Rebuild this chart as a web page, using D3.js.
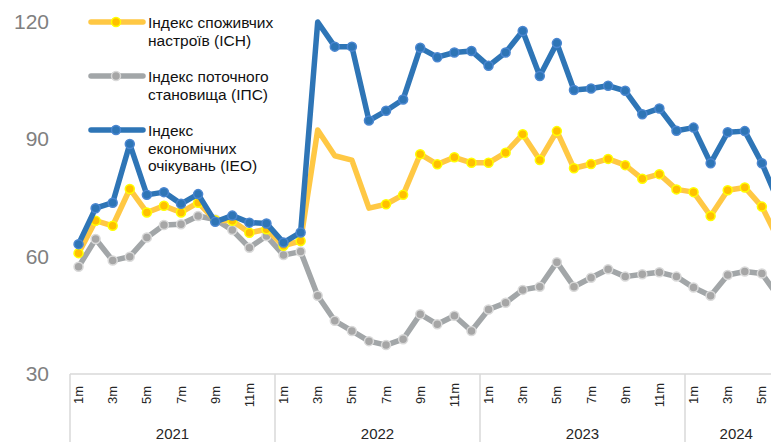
<!DOCTYPE html>
<html lang="uk">
<head>
<meta charset="utf-8">
<title>Індекси споживчих настроїв</title>
<script src="https://d3js.org/d3.v7.min.js"></script>
<style>
  body { margin: 0; background: #fff; }
  svg { display: block; overflow: hidden; }
  text { font-family: "Liberation Sans", Arial, sans-serif; }
</style>
</head>
<body>
<script>
// years and how many months each one covers
var years = ["2021", "2022", "2023", "2024"];
var monthsPerYear = [12, 12, 12, 6];
var yTicks = [30, 60, 90, 120];

// Індекс споживчих настроїв (ІСН)
var ich = [60.9, 69.2, 67.9, 77.3, 71.3, 73.0, 71.3, 73.8, 69.3, 69.2, 66.1, 67.0,
           62.8, 64.0, 92.4, 85.8, 84.7, 72.4, 73.4, 75.8, 86.2, 83.6, 85.4, 84.0,
           84.0, 86.6, 91.3, 84.7, 92.1, 82.6, 83.7, 85.0, 83.4, 79.9, 81.1, 77.2,
           76.5, 70.4, 77.0, 77.7, 72.8, 64.1];
// Індекс поточного становища (ІПС)
var ips = [57.4, 64.5, 59.0, 60.0, 64.9, 68.1, 68.3, 70.4, 69.5, 66.8, 62.3, 65.3,
           60.4, 61.3, 50.0, 43.6, 41.0, 38.4, 37.4, 38.9, 45.3, 42.7, 44.9, 41.0,
           46.5, 48.2, 51.5, 52.3, 58.6, 52.3, 54.6, 56.8, 54.9, 55.5, 56.0, 54.9,
           52.1, 50.0, 55.3, 56.2, 55.7, 49.6];
// Індекс економічних очікувань (ІЕО)
var ieo = [63.2, 72.4, 73.8, 88.8, 75.8, 76.5, 73.5, 76.0, 68.9, 70.5, 68.7, 68.5,
           63.6, 66.2, 120.0, 113.7, 113.7, 94.8, 97.3, 100.2, 113.4, 111.0, 112.2, 112.6,
           108.8, 112.2, 117.7, 106.2, 114.6, 102.6, 103.0, 103.7, 102.4, 96.4, 97.9, 92.2,
           93.0, 83.9, 91.8, 92.1, 83.9, 73.7];

// points drawn without a marker in the original
var noMarkIch = ["2022-3", "2022-4", "2022-5", "2022-6"];
var noMarkIeo = ["2022-3"];

var w = 771, h = 442;

// build month keys "2021-1" ...
var months = [];
years.forEach(function(y, i) {
  for (var m = 1; m <= monthsPerYear[i]; m++) months.push({ key: y + "-" + m, year: y, m: m });
});
var keys = months.map(function(d) { return d.key; });

var step = 205 / 12;
var x = d3.scaleBand()
  .domain(keys)
  .range([70, 70 + step * keys.length]);

var y = d3.scaleLinear()
  .domain([30, 120])
  .range([374, 22]);

var svg = d3.select("body").append("svg")
  .attr("width", w)
  .attr("height", h);

// y labels (no axis line)
svg.selectAll(".ylab")
  .data(yTicks)
  .enter().append("text")
  .attr("class", "ylab")
  .attr("x", 49)
  .attr("y", function(d) { return y(d) + 7; })
  .attr("text-anchor", "end")
  .attr("fill", "#808080")
  .style("font-size", "21px")
  .text(function(d) { return d; });

// x axis: top line + year separators
var axisY = 374;
svg.append("line")
  .attr("x1", 70).attr("x2", w)
  .attr("y1", axisY).attr("y2", axisY)
  .attr("stroke", "#d9d9d9").attr("stroke-width", 1.5);

var yearStart = [0];
monthsPerYear.forEach(function(n, i) { yearStart.push(yearStart[i] + n); });

yearStart.forEach(function(s) {
  var xx = 70 + s * step;
  svg.append("line")
    .attr("x1", xx).attr("x2", xx)
    .attr("y1", axisY).attr("y2", h)
    .attr("stroke", "#d9d9d9").attr("stroke-width", 1.5);
});

years.forEach(function(yr, i) {
  var x0 = 70 + yearStart[i] * step, x1 = 70 + yearStart[i + 1] * step;
  svg.append("text")
    .attr("x", (x0 + x1) / 2)
    .attr("y", 439)
    .attr("text-anchor", "middle")
    .attr("fill", "#262626")
    .style("font-size", "15px")
    .text(yr);
});

// month labels (odd months), rotated
svg.selectAll(".mlab")
  .data(months.filter(function(d) { return d.m % 2 === 1; }))
  .enter().append("text")
  .attr("class", "mlab")
  .attr("transform", function(d) {
    return "translate(" + (x(d.key) + x.bandwidth() / 2 + 4.5) + "," + 395 + ") rotate(-90)";
  })
  .attr("text-anchor", "middle")
  .attr("fill", "#262626")
  .style("font-size", "13px")
  .text(function(d) { return d.m + "m"; });

// series
var series = [
  { name: "ips", values: ips, line: "#a2a6a8", fill: "#a6a6a6", stroke: "#d9d9d9", skip: [] },
  { name: "ich", values: ich, line: "#ffc844", fill: "#ffc000", stroke: "#ffff00", skip: noMarkIch },
  { name: "ieo", values: ieo, line: "#2e75b6", fill: "#2e75b6", stroke: "#4a86d0", skip: noMarkIeo }
];

var line = d3.line()
  .x(function(d, i) { return x(keys[i]) + x.bandwidth() / 2; })
  .y(function(d) { return y(d); });

series.forEach(function(s) {
  var g = svg.append("g").attr("class", s.name);
  g.append("path")
    .datum(s.values)
    .attr("fill", "none")
    .attr("stroke", s.line)
    .attr("stroke-width", 5.5)
    .attr("stroke-linejoin", "round")
    .attr("d", line);
  g.selectAll("circle")
    .data(s.values.map(function(v, i) { return { v: v, key: keys[i] }; })
      .filter(function(d) { return s.skip.indexOf(d.key) < 0; }))
    .enter().append("circle")
    .attr("cx", function(d) { return x(d.key) + x.bandwidth() / 2; })
    .attr("cy", function(d) { return y(d.v); })
    .attr("r", 4.5)
    .attr("fill", s.fill)
    .attr("stroke", s.stroke)
    .attr("stroke-width", 1.5);
});

// legend
var legend = [
  { color: "#ffc844", fill: "#ffc000", stroke: "#ffff00", y: 22, lines: ["Індекс споживчих", "настроїв (ІСН)"] },
  { color: "#a2a6a8", fill: "#a6a6a6", stroke: "#d9d9d9", y: 76, lines: ["Індекс поточного", "становища (ІПС)"] },
  { color: "#2e75b6", fill: "#2e75b6", stroke: "#4a86d0", y: 130, lines: ["Індекс", "економічних", "очікувань (ІЕО)"] }
];

legend.forEach(function(l) {
  var g = svg.append("g");
  // white backdrop so the lines pass under the legend like in the original
  g.append("line")
    .attr("x1", 91).attr("x2", 143)
    .attr("y1", l.y).attr("y2", l.y)
    .attr("stroke", l.color).attr("stroke-width", 5.5).attr("stroke-linecap", "round");
  g.append("circle")
    .attr("cx", 116).attr("cy", l.y).attr("r", 4.5)
    .attr("fill", l.fill).attr("stroke", l.stroke).attr("stroke-width", 1.5);
  var t = g.append("text")
    .attr("x", 148)
    .attr("y", l.y + 6)
    .attr("fill", "#111")
    .style("font-size", "15.5px");
  l.lines.forEach(function(s, i) {
    t.append("tspan")
      .attr("x", 148)
      .attr("dy", i === 0 ? 0 : 17.5)
      .text(s);
  });
});
</script>
</body>
</html>
